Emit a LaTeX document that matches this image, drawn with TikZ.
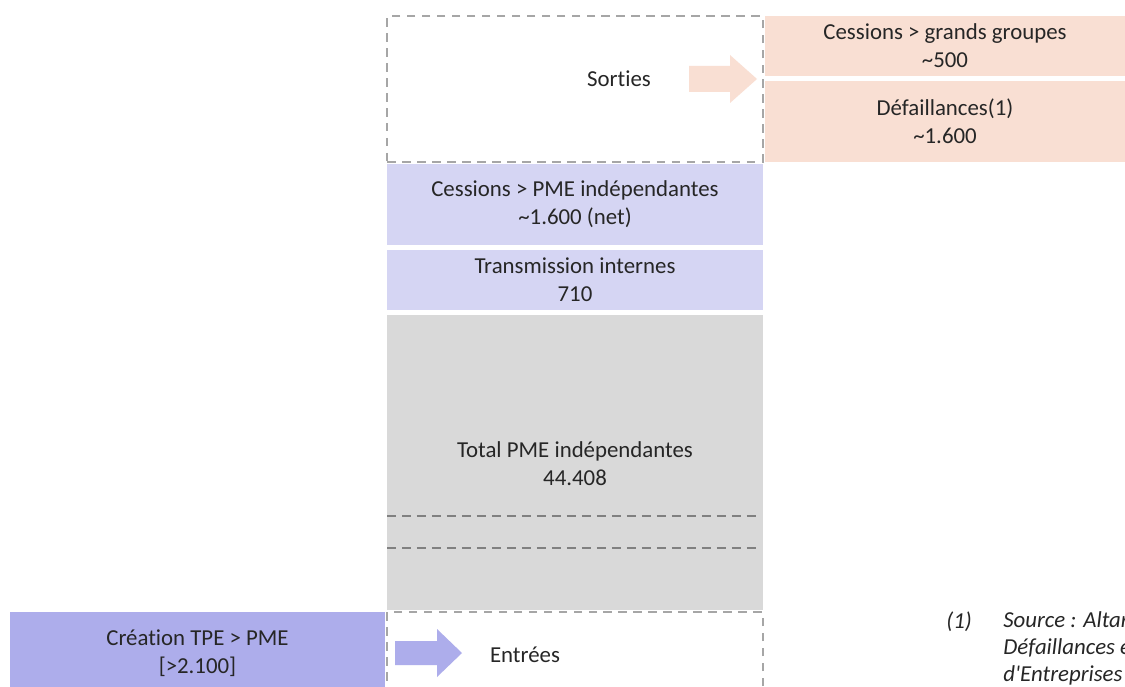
\documentclass[tikz,border=0pt]{standalone}
\usepackage{fontspec}
\setmainfont{Carlito}[Ligatures=NoCommon]
\usetikzlibrary{positioning}

\definecolor{lilas}{HTML}{D5D5F3}
\definecolor{lilasdark}{HTML}{ADADEB}
\definecolor{peche}{HTML}{F9DFD3}
\definecolor{gristotal}{HTML}{D9D9D9}
\definecolor{grisframe}{HTML}{A6A6A6}
\definecolor{grisline}{HTML}{808080}
\definecolor{texte}{HTML}{262626}

\tikzset{
    bloc/.style={inner sep=0pt, align=center, text=texte,
        font=\fontsize{13}{15.9}\selectfont},
    cadre/.style={bloc, draw=grisframe, line width=1.1pt,
        dash pattern=on 0.17cm off 0.13cm},
    tirets/.style={draw=grisline, line width=1.1pt,
        dash pattern=on 0.18cm off 0.12cm},
}

\begin{document}
\begin{tikzpicture}[x=0.02cm, y=-0.02cm]
    \useasboundingbox (0,0) rectangle (1125,686);
    \clip (0,0) rectangle (1125,686);

    % colonne centrale
    \node[cadre, fill=white, minimum width=7.52cm, minimum height=2.92cm] (sortiesbox) at (575,89) {};
    \node[bloc] (sorties) at (619,79) {Sorties};
    \node[bloc, fill=lilas, minimum width=7.52cm, minimum height=1.62cm] (cesspme) at (575,204.5)
        {Cessions > PME indépendantes\\\textasciitilde1.600 (net)};
    \node[bloc, fill=lilas, minimum width=7.52cm, minimum height=1.2cm] (transint) at (575,280)
        {Transmission internes\\710};
    \node[bloc, fill=gristotal, minimum width=7.52cm, minimum height=5.9cm] (total) at (575,462.5) {};
    \node[bloc] (totaltxt) at (575,464) {Total PME indépendantes\\44.408};
    \draw[tirets] (387,516) -- (758,516);
    \draw[tirets] (387,548) -- (758,548);
    \node[cadre, fill=white, minimum width=7.52cm, minimum height=1.76cm] (entreesbox) at (575,656) {};
    \node[bloc] (entrees) at (525,655) {Entrées};

    % sorties
    \node[bloc, fill=peche, minimum width=7.2cm, minimum height=1.2cm] (cessgg) at (945,46)
        {Cessions > grands groupes\\\textasciitilde500};
    \node[bloc, fill=peche, minimum width=7.2cm, minimum height=1.62cm] (defail) at (945,121.5)
        {Défaillances(1)\\\textasciitilde1.600};
    \fill[peche] (689,66) -- (730,66) -- (730,55) -- (757,79) -- (730,103) -- (730,92) -- (689,92) -- cycle;

    % entrees
    \node[bloc, fill=lilasdark, minimum width=7.5cm, minimum height=1.64cm] (creation) at (197.5,653)
        {Création TPE > PME\\{[>2.100]}};
    \fill[lilasdark] (395,641) -- (437,641) -- (437,629) -- (462,653) -- (437,677) -- (437,665) -- (395,665) -- cycle;

    % note
    \node[bloc, anchor=west, font=\fontsize{13}{15.4}\selectfont\itshape] (renvoi) at (946,622) {(1)};
    \node[bloc, anchor=north west, align=left, font=\fontsize{13}{15.4}\selectfont\itshape] (source) at (1003,611)
        {Source : Altares\\Défaillances et\\d\textquotesingle Entreprises};
\end{tikzpicture}
\end{document}
